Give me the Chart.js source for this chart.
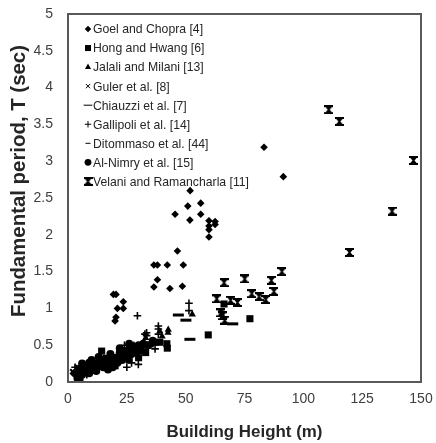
<!DOCTYPE html>
<html>
<head>
<meta charset="utf-8">
<script src="https://cdn.jsdelivr.net/npm/chart.js@4.4.1/dist/chart.umd.min.js"></script>
<style>
  html, body { margin: 0; padding: 0; background: #fff; }
  #wrap { width: 436px; height: 443px; }
</style>
</head>
<body>
<div id="wrap"><canvas id="c" width="436" height="443"></canvas></div>
<script>
// axis ticks
const xTicks = [0, 25, 50, 75, 100, 125, 150];
const yTicks = [0, 0.5, 1, 1.5, 2, 2.5, 3, 3.5, 4, 4.5, 5];

// Goel and Chopra [4]
const goelH = [19.3, 20.4, 23.5, 21.0, 23.5, 20.4, 20.0, 36.5, 38.0, 42.2, 49.0, 38.0, 36.5, 43.3, 48.6, 46.5, 51.9, 50.9, 56.4, 45.5, 51.8, 56.4, 59.9, 62.5, 62.5, 59.9, 59.9, 59.9, 83.3, 91.5];
const goelT = [1.19, 1.19, 1.09, 1.00, 1.00, 0.88, 0.83, 1.59, 1.59, 1.59, 1.59, 1.39, 1.29, 1.27, 1.30, 1.78, 2.60, 2.39, 2.43, 2.28, 2.20, 2.28, 2.19, 2.18, 2.14, 2.12, 2.07, 1.97, 3.19, 2.79];
// Hong and Hwang [6]
const hongH = [5.1, 14.3, 42.2, 59.6, 66.3, 77.3, 37.0, 39.0, 42.0, 8.0, 10.5, 12.0, 16.0, 18.5, 22.0, 25.0, 28.0, 31.0, 34.0, 20.0, 26.0, 33.0, 30.0];
const hongT = [0.01, 0.42, 0.46, 0.64, 1.06, 0.86, 0.54, 0.54, 0.52, 0.15, 0.20, 0.25, 0.30, 0.28, 0.35, 0.38, 0.42, 0.45, 0.50, 0.22, 0.30, 0.40, 0.33];
// Jalali and Milani [13]
const jalaliH = [52.8, 42.6, 42.5, 39.0, 10.0, 15.0, 20.0, 25.0, 30.0, 35.0, 12.0, 18.0, 28.0, 33.0, 40.0];
const jalaliT = [0.92, 0.71, 0.67, 0.69, 0.20, 0.27, 0.32, 0.40, 0.45, 0.52, 0.18, 0.35, 0.50, 0.60, 0.62];
// Guler et al. [8]
const gulerH = [6.0, 9.0, 12.0, 15.0, 18.0, 21.0, 24.0, 27.0, 13.0, 4.0, 30.0, 2.0];
const gulerT = [0.12, 0.18, 0.22, 0.25, 0.32, 0.30, 0.36, 0.40, 0.30, 0.20, 0.48, 0.14];
// Chiauzzi et al. [7]
const chiauzziH = [46.9, 50.1, 70.0, 51.8, 34.1, 20.0, 26.0, 30.0];
const chiauzziT = [0.91, 0.84, 0.79, 0.58, 0.49, 0.30, 0.42, 0.40];
// Gallipoli et al. [14]
const gallipoliH = [51.4, 51.4, 29.5, 32.7, 38.4, 29.9, 37.0, 33.4, 33.4, 38.4, 38.4, 3.0, 3.0, 4.0, 6.0, 8.0, 25.0, 27.0, 24.0];
const gallipoliT = [1.07, 0.97, 0.90, 0.65, 0.76, 0.24, 0.45, 0.67, 0.63, 0.72, 0.65, 0.10, 0.20, 0.15, 0.22, 0.10, 0.20, 0.26, 0.50];
// Ditommaso et al. [44]
const ditommasoH = [10.0, 14.0, 18.0, 22.0, 26.0, 30.0, 16.0, 24.0];
const ditommasoT = [0.20, 0.28, 0.25, 0.30, 0.35, 0.42, 0.35, 0.45];
// Al-Nimry et al. [15]
const nimryH = [3, 4, 5, 6, 7, 8, 9, 10, 11, 12, 13, 14, 15, 16, 17, 18, 19, 20, 21, 22, 23, 24, 25, 26, 27, 28, 29, 30, 31, 32, 34, 36, 9, 13, 17, 6, 10, 18, 22, 26];
const nimryT = [0.12, 0.05, 0.18, 0.10, 0.15, 0.20, 0.12, 0.18, 0.25, 0.15, 0.22, 0.30, 0.20, 0.27, 0.23, 0.30, 0.20, 0.33, 0.26, 0.40, 0.30, 0.42, 0.35, 0.45, 0.38, 0.47, 0.40, 0.50, 0.43, 0.52, 0.50, 0.56, 0.26, 0.34, 0.17, 0.25, 0.30, 0.38, 0.46, 0.52];
// Velani and Ramancharla [11]
const velaniH = [110.8, 115.3, 146.8, 137.7, 119.6, 90.9, 86.4, 66.3, 75.1, 78.1, 81.2, 84.0, 87.5, 63.2, 69.1, 72.0, 65.0, 65.6, 66.6];
const velaniT = [3.70, 3.54, 3.01, 2.32, 1.76, 1.50, 1.38, 1.35, 1.40, 1.20, 1.16, 1.12, 1.23, 1.13, 1.11, 1.08, 0.94, 0.90, 0.84];

const FONT = '"Liberation Sans", Arial, sans-serif';
const toPts = (h, t) => h.map((v, i) => ({ x: v, y: t[i] }));

// pick a font size so a string spans the wanted width
const probe = document.createElement('canvas').getContext('2d');
function fitSize (text, weight, want) {
  probe.font = weight + ' 20px ' + FONT;
  return 20 * want / probe.measureText(text).width;
}
const legendSize = fitSize('Velani and Ramancharla [11]', 'normal', 156);
const yTitleSize = fitSize('Fundamental period, T (sec)', 'bold', 272);
const xTitleSize = fitSize('Building Height (m)', 'bold', 156);

// hourglass marker for Velani and Ramancharla
function hourglass (s) {
  const c = document.createElement('canvas');
  c.width = s; c.height = s;
  const g = c.getContext('2d');
  g.fillStyle = '#000';
  g.fillRect(0, 0, s, 2);
  g.fillRect(0, s - 2, s, 2);
  g.beginPath();
  g.moveTo(0.5, 1); g.lineTo(s - 0.5, 1); g.lineTo(s / 2 + 1, s / 2);
  g.lineTo(s - 0.5, s - 1); g.lineTo(0.5, s - 1); g.lineTo(s / 2 - 1, s / 2);
  g.closePath();
  g.fill();
  return c;
}
const hg = hourglass(9);

const series = [
  { label: 'Goel and Chopra [4]', h: goelH, t: goelT, style: 'rectRot', r: 3.8, bw: 0 },
  { label: 'Hong and Hwang [6]', h: hongH, t: hongT, style: 'rect', r: 5, bw: 0 },
  { label: 'Jalali and Milani [13]', h: jalaliH, t: jalaliT, style: 'triangle', r: 4.2, bw: 0 },
  { label: 'Guler et al. [8]', h: gulerH, t: gulerT, style: 'crossRot', r: 3.5, bw: 2.2 },
  { label: 'Chiauzzi et al. [7]', h: chiauzziH, t: chiauzziT, style: 'line', r: 5.5, bw: 3 },
  { label: 'Gallipoli et al. [14]', h: gallipoliH, t: gallipoliT, style: 'cross', r: 3.8, bw: 1.6 },
  { label: 'Ditommaso et al. [44]', h: ditommasoH, t: ditommasoT, style: 'line', r: 3.2, bw: 3 },
  { label: 'Al-Nimry et al. [15]', h: nimryH, t: nimryT, style: 'circle', r: 4, bw: 0 },
  { label: 'Velani and Ramancharla [11]', h: velaniH, t: velaniT, style: hg, r: 4.5, bw: 0 }
];

const datasets = series.map(s => ({
  label: s.label,
  data: toPts(s.h, s.t),
  pointStyle: s.style,
  pointRadius: s.r,
  pointBorderWidth: s.bw,
  backgroundColor: '#000',
  borderColor: '#000'
}));

// legend inside the plot area + rotated y title
const overlay = {
  id: 'overlay',
  afterDraw (chart) {
    const { ctx, chartArea } = chart;
    ctx.save();
    ctx.textBaseline = 'middle';
    ctx.textAlign = 'left';
    series.forEach((s, i) => {
      const y = chartArea.top + 15 + i * 19.05;
      const x = chartArea.left + 20;
      ctx.fillStyle = '#000';
      ctx.strokeStyle = '#000';
      Chart.helpers.drawPoint(ctx, {
        pointStyle: s.style,
        radius: s.style === 'line' ? s.r * 0.8 : s.r * 0.85,
        borderWidth: s.bw,
        rotation: 0
      }, x, y);
      ctx.font = legendSize.toFixed(2) + 'px ' + FONT;
      ctx.fillStyle = '#262626';
      ctx.fillText(s.label, x + 5, y + 1);
    });
    ctx.restore();

    ctx.save();
    ctx.translate(19, 181);
    ctx.rotate(-Math.PI / 2);
    ctx.font = 'bold ' + yTitleSize.toFixed(2) + 'px ' + FONT;
    ctx.fillStyle = '#262626';
    ctx.textAlign = 'center';
    ctx.textBaseline = 'middle';
    ctx.fillText('Fundamental period, T (sec)', 0, 0);
    ctx.restore();
  }
};

// plot frame
const frame = {
  id: 'frame',
  afterDatasetsDraw (chart) {
    const { ctx, chartArea: a } = chart;
    ctx.save();
    ctx.strokeStyle = '#595959';
    ctx.lineWidth = 2;
    ctx.strokeRect(a.left, a.top, a.right - a.left, a.bottom - a.top);
    ctx.restore();
  }
};

Chart.defaults.font.family = FONT;

new Chart(document.getElementById('c'), {
  type: 'scatter',
  data: { datasets },
  plugins: [frame, overlay],
  options: {
    responsive: false,
    animation: false,
    layout: { padding: { top: 14, right: 15, left: 0, bottom: 0 } },
    plugins: { legend: { display: false }, tooltip: { enabled: false } },
    elements: { point: { hoverRadius: 0 } },
    scales: {
      x: {
        type: 'linear', min: 0, max: 150,
        afterBuildTicks: s => { s.ticks = xTicks.map(v => ({ value: v })); },
        afterFit: s => { s.height = 61; s.paddingLeft = 0; s.paddingRight = 0; },
        grid: { display: false, drawTicks: false },
        border: { display: false },
        ticks: { padding: 9, color: '#404040', font: { size: 14 } },
        title: { display: true, text: 'Building Height (m)', color: '#262626', padding: { top: 0, bottom: 1 },
          font: { size: xTitleSize, weight: 'bold' } }
      },
      y: {
        type: 'linear', min: 0, max: 5,
        afterBuildTicks: s => { s.ticks = yTicks.map(v => ({ value: v })); },
        afterFit: s => { s.width = 68; s.paddingTop = 0; s.paddingBottom = 0; },
        grid: { display: false, drawTicks: false },
        border: { display: false },
        ticks: { padding: 15, color: '#404040', font: { size: 14 }, callback: v => String(v) }
      }
    }
  }
});
</script>
</body>
</html>
